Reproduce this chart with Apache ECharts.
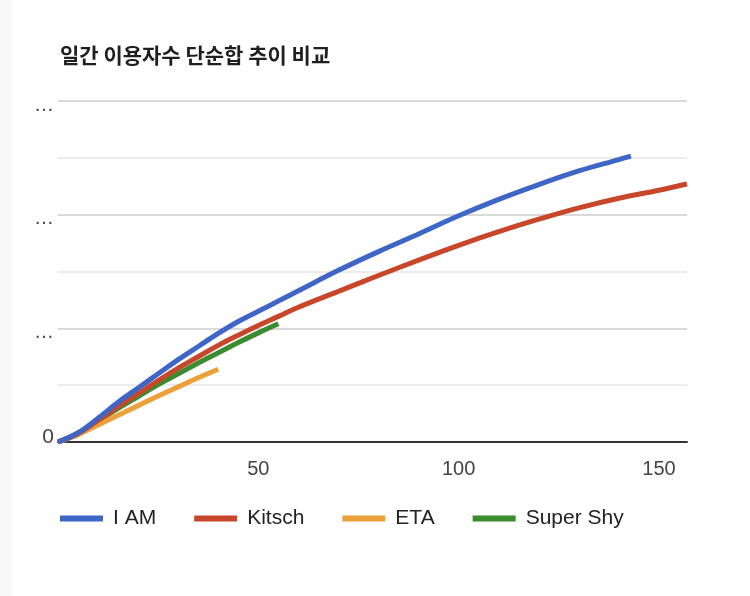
<!DOCTYPE html>
<html>
<head>
<meta charset="utf-8">
<script src="https://cdn.jsdelivr.net/npm/echarts@6/dist/echarts.min.js"></script>
<style>
html,body{margin:0;padding:0;background:#fff;}
#c{width:750px;height:596px;}
</style>
</head>
<body>
<div id="c"></div>
<script>
const titleText = '일간 이용자수 단순합 추이 비교';
const seriesNames = ['I AM', 'Kitsch', 'ETA', 'Super Shy'];
const xTicks = [50, 100, 150];

const iamDays = [0,5,10,15,20,25,30,35,40,45,50,55,60,70,80,90,100,110,120,130,140,143];
const iamValues = [0,0.16,0.42,0.70,0.95,1.20,1.45,1.68,1.91,2.12,2.30,2.48,2.66,3.02,3.35,3.66,3.98,4.27,4.53,4.77,4.97,5.03];

const kitschDays = [0,5,10,15,20,25,30,35,40,45,50,55,60,70,80,90,100,110,120,130,140,150,157];
const kitschValues = [0,0.15,0.38,0.62,0.85,1.08,1.30,1.50,1.70,1.88,2.05,2.21,2.37,2.65,2.93,3.20,3.46,3.70,3.92,4.12,4.29,4.43,4.54];

const etaDays = [0,5,10,15,20,25,30,35,40];
const etaValues = [0,0.13,0.30,0.47,0.64,0.81,0.97,1.13,1.28];

const superShyDays = [0,5,10,15,20,25,30,35,40,45,50,55];
const superShyValues = [0,0.16,0.37,0.59,0.80,1.01,1.20,1.39,1.57,1.75,1.92,2.08];

const colors = ['#3d66c6', '#c8462a', '#eca03a', '#3b8b2f'];

function pairs(xs, ys) { return xs.map((x, i) => [x, ys[i]]); }

const latin = '"Liberation Sans", Arial, "Noto Sans CJK KR", sans-serif';
const chart = echarts.init(document.getElementById('c'));
const dataSets = [
  pairs(iamDays, iamValues),
  pairs(kitschDays, kitschValues),
  pairs(etaDays, etaValues),
  pairs(superShyDays, superShyValues)
];
chart.setOption({
  backgroundColor: '#ffffff',
  animation: false,
  graphic: [{
    type: 'rect', left: 0, top: 0, shape: { width: 12, height: 596 },
    style: { fill: '#f9f9fb' }, silent: true
  }],
  title: {
    text: titleText,
    left: 55, top: 40,
    textStyle: { fontFamily: '"Noto Sans CJK KR", sans-serif', fontSize: 21, fontWeight: 'bold', color: '#1f1f1f' }
  },
  legend: {
    left: 55, top: 503,
    icon: 'rect', itemWidth: 43, itemHeight: 6, itemGap: 38,
    textStyle: { fontFamily: latin, fontSize: 21, color: '#222', padding: [0, 0, 0, 5] },
    data: seriesNames
  },
  grid: { left: 58, right: 63, top: 101, bottom: 154, containLabel: false },
  xAxis: {
    type: 'value', min: 0, max: 157, interval: 50,
    axisLine: { show: true, lineStyle: { color: '#333', width: 2 } },
    axisTick: { show: false },
    splitLine: { show: false },
    axisLabel: {
      showMaxLabel: false,
      margin: 17,
      fontFamily: latin, fontSize: 20, color: '#444',
      formatter: v => (xTicks.indexOf(v) >= 0 ? String(v) : '')
    }
  },
  yAxis: {
    type: 'value', min: 0, max: 6, interval: 1,
    axisLine: { show: false },
    axisTick: { show: false },
    splitLine: { show: true, lineStyle: { color: ['#cccccc', '#e6e6e6'], width: 1.5 } },
    axisLabel: {
      margin: 4,
      fontFamily: latin, fontSize: 20, color: '#444',
      formatter: v => (v === 0 ? '{z|0}' : (v % 2 === 0 ? '{d|…}' : '')),
      rich: {
        z: { fontFamily: latin, fontSize: 21, color: '#444', padding: [0, 0, 10, 0] },
        d: { fontFamily: latin, fontSize: 20, color: '#444', padding: [8, 0, 0, 0] }
      }
    }
  },
  series: seriesNames.map((n, i) => ({
    name: n, type: 'line', data: dataSets[i],
    smooth: 0.4, symbol: 'none', showSymbol: false,
    lineStyle: { width: 5, color: colors[i], cap: 'butt' },
    itemStyle: { color: colors[i] },
    z: 10 - i
  }))
});
</script>
</body>
</html>
